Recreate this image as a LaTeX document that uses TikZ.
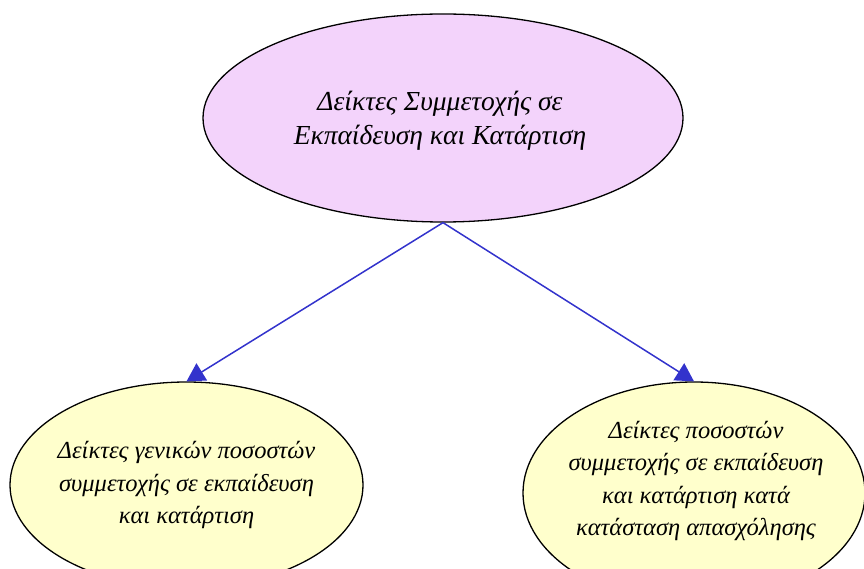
\documentclass[tikz,border=0pt]{standalone}
\usepackage{fontspec}
\setmainfont{Liberation Serif}
\usetikzlibrary{shapes.geometric,arrows.meta}
\definecolor{topfill}{RGB}{243,211,251}
\definecolor{leaffill}{RGB}{255,255,204}
\definecolor{linkblue}{RGB}{51,51,204}
\tikzset{
  oval/.style={ellipse, draw=black, line width=1.3pt, inner sep=0pt},
  ovaltext/.style={align=center, inner sep=0pt, font=\itshape\fontsize{24.5}{32.5}\selectfont},
  link/.style={draw=linkblue, line width=1.5pt, -{Triangle[length=18pt,width=20pt]}, fill=linkblue}
}
\begin{document}
\begin{tikzpicture}[x=1pt,y=-1pt]
\useasboundingbox (0,0) rectangle (864,569);
\begin{scope}
\clip (0,0) rectangle (864,569);
\node[oval, fill=topfill, minimum width=480pt, minimum height=208pt] (top) at (443,118) {};
\node[ovaltext, font=\itshape\fontsize{27.5}{34}\selectfont] (toptext) at (440,121) {Δείκτες Συμμετοχής σε\\Εκπαίδευση και Κατάρτιση};
\node[oval, fill=leaffill, minimum width=353pt, minimum height=206pt] (left) at (186.5,485) {};
\node[ovaltext] (lefttext) at (186.5,485) {Δείκτες γενικών ποσοστών\\συμμετοχής σε εκπαίδευση\\και κατάρτιση};
\node[oval, fill=leaffill, minimum width=342pt, minimum height=222pt] (right) at (694,493) {};
\node[ovaltext] (righttext) at (696,481) {Δείκτες ποσοστών\\συμμετοχής σε εκπαίδευση\\και κατάρτιση κατά\\κατάσταση απασχόλησης};
\coordinate (tb) at (top.south);
\draw[link] (tb) -- (left.north);
\draw[link] (tb) -- (right.north);
\end{scope}
\end{tikzpicture}
\end{document}
